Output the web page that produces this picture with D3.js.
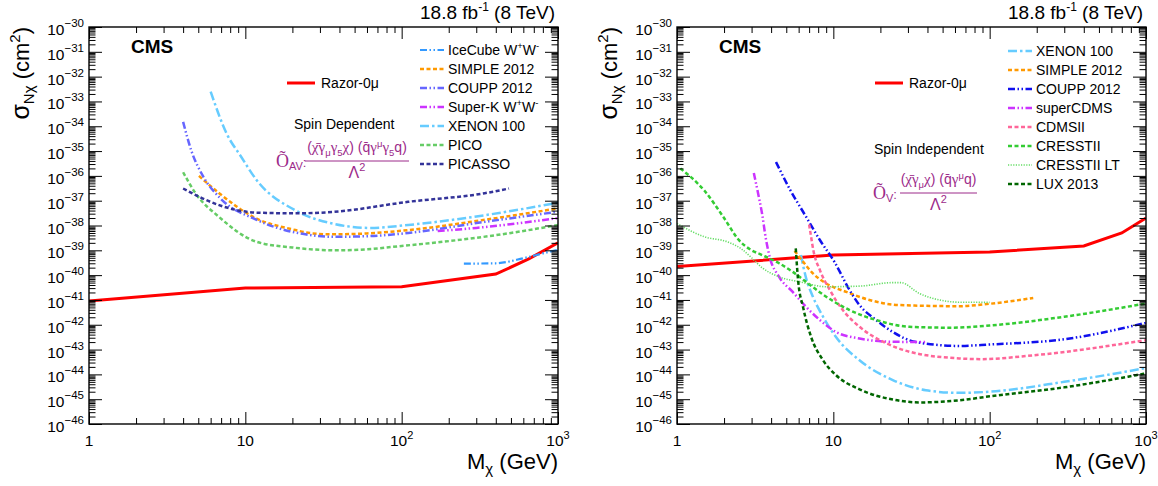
<!DOCTYPE html>
<html>
<head>
<meta charset="utf-8">
<script src="https://cdn.jsdelivr.net/npm/d3@7"></script>
<style>
body { margin: 0; background: #fff; }
text { font-family: "Liberation Sans", Arial, sans-serif; }
</style>
</head>
<body>
<script>
// ---- data: [mass (GeV), sigma (cm^2)] ----
// spin dependent (left)
const razorSD = [[1, 9e-42], [10, 3e-41], [100, 3.4e-41], [400, 1.1e-40], [650, 4.5e-40], [1000, 2e-39]];
const iceCubeSD = [[250, 2.9e-40], [400, 3e-40], [600, 4.8e-40], [800, 7.5e-40], [1000, 1.05e-39]];
const simpleSD = [[5.05, 1e-36], [6.8, 2e-37], [11.8, 1.9e-38], [20, 7e-39], [27, 4.8e-39], [36, 4.4e-39], [60, 4.8e-39], [110, 6.5e-39], [340, 1.7e-38], [1000, 4.9e-38]];
const couppSD = [[4.0, 1.5e-34], [4.5, 1.1e-35], [5.4, 9e-37], [6.8, 1.4e-37], [11.8, 1.7e-38], [27, 4e-39], [36, 3.5e-39], [60, 3.7e-39], [110, 5e-39], [340, 1.4e-38], [1000, 3.6e-38]];
const superKSD = [[170, 6e-39], [300, 8e-39], [600, 1.3e-38], [1000, 2e-38]];
const xenonSD = [[6.0, 2.5e-33], [7.6, 5e-35], [9.4, 5.9e-36], [11.8, 6.8e-37], [20.7, 4.2e-38], [36, 1.2e-38], [63, 8e-39], [110, 1.05e-38], [340, 2.6e-38], [1000, 8.3e-38]];
const picoSD = [[4.0, 1.4e-36], [4.8, 2e-37], [6.8, 2.2e-38], [11.8, 2.2e-39], [20, 1.3e-39], [38, 1e-39], [60, 1.1e-39], [100, 1.5e-39], [183, 2.2e-39], [500, 5e-39], [1000, 1.05e-38]];
const picassoSD = [[4.0, 3.1e-37], [6.8, 6.6e-38], [11.8, 3.3e-38], [20.7, 3.1e-38], [36, 3.5e-38], [110, 9e-38], [340, 2e-37], [486, 3.1e-37]];

// spin independent (right)
const razorSI = [[1, 2.2e-40], [10, 6.5e-40], [100, 8.5e-40], [400, 1.5e-39], [700, 5e-39], [1000, 2e-38]];
const xenonSI = [[6.2, 6.5e-40], [6.7, 7.4e-41], [7.4, 1.35e-41], [8.6, 2.1e-42], [10.4, 3.2e-43], [14.7, 3.7e-44], [24, 5.9e-45], [39, 2.3e-45], [64, 1.8e-45], [100, 2e-45], [300, 5e-45], [1000, 1.8e-44]];
const simpleSI = [[5.65, 9.5e-40], [6.4, 3.5e-40], [7.4, 1.17e-40], [9, 4.6e-41], [12.1, 2.1e-41], [17, 1e-41], [26.5, 6.2e-42], [64, 5.6e-42], [100, 7e-42], [190, 1.2e-41]];
const couppSI = [[4.3, 3.6e-36], [5.3, 2.7e-37], [6.6, 2.6e-38], [8.2, 2.6e-39], [10.2, 3.3e-40], [12.7, 2.5e-41], [14.7, 6.2e-42], [18.8, 1.55e-42], [24, 5.1e-43], [33.8, 2e-43], [64, 1.4e-43], [100, 1.6e-43], [300, 2.6e-43], [1000, 1.2e-42]];
const superCdmsSI = [[3.1, 1.3e-36], [3.3, 2e-37], [3.5, 3e-38], [3.7, 3e-39], [3.9, 6e-40], [4.5, 8.5e-41], [5.5, 2.1e-41], [6.7, 5.2e-42], [8.2, 1.55e-42], [10.4, 5.1e-43], [14.7, 2.8e-43], [21.8, 2.1e-43], [39, 2e-43]];
const cdms2SI = [[7.0, 1.1e-38], [7.15, 4.8e-39], [7.45, 1e-39], [8.2, 1.6e-40], [9.5, 2.5e-41], [11.5, 3.9e-42], [14.7, 8.3e-43], [21.8, 1.8e-43], [30.6, 8.2e-44], [64, 4.4e-44], [89, 4.1e-44], [172, 5.5e-44], [1000, 2.4e-43]];
const cresst2SI = [[1.05, 2e-36], [1.5, 2.5e-37], [2.0, 2e-38], [2.5, 2.5e-39], [3.0, 1e-39], [3.4, 7e-40], [4.5, 3e-40], [5.5, 1.35e-40], [7.1, 4e-41], [9, 1.35e-41], [12.7, 3.9e-42], [18.8, 1.55e-42], [30.6, 8.3e-43], [57, 7.6e-43], [100, 9.3e-43], [300, 2.1e-42], [1000, 7.2e-42]];
const cresst2LtSI = [[1.0, 1.2e-38], [1.5, 3.5e-39], [2.1, 2.2e-39], [2.6, 1.1e-39], [3.0, 5e-40], [3.5, 2e-40], [4.5, 8.5e-41], [6.1, 5.4e-41], [9, 3.4e-41], [14.7, 3.6e-41], [24, 5e-41], [27, 5e-41], [35.6, 1.8e-41], [47.6, 1e-41], [64, 8.1e-42], [100, 8e-42]];
const luxSI = [[5.75, 1.2e-39], [5.95, 6.3e-41], [6.4, 5.2e-42], [7.2, 3.3e-43], [8.6, 3.7e-44], [10.4, 9.3e-45], [14.7, 2.5e-45], [24, 9.7e-46], [35.6, 7.4e-46], [64, 9e-46], [100, 1.3e-45], [300, 3e-45], [1000, 1.1e-44]];

// axis ticks
const xMajor = [1, 10, 100, 1000];
const xLabels = ['1', '10', '10^{2}', '10^{3}'];
const yExponents = d3.range(-46, -29);

// ---- layout ----
const width = 1158, height = 486;
const frameTop = 27, frameBottom = 424;

const dashDotDot = '7,2.5,1.5,2.5,1.5,2.5',
    dashed = '4,2.5',
    longDashDot = '9,3,2.5,3',
    dotted = '1.2,1.4';

const panels = [
    {
        x0: 89, x1: 558,
        razor: razorSD,
        series: [
            {name: 'IceCube W^{+}W^{-}', data: iceCubeSD, color: '#3399ff', dash: dashDotDot, w: 2.2},
            {name: 'SIMPLE 2012', data: simpleSD, color: '#ff9900', dash: dashed, w: 2.5},
            {name: 'COUPP 2012', data: couppSD, color: '#6666ff', dash: dashDotDot, w: 2.5},
            {name: 'Super-K W^{+}W^{-}', data: superKSD, color: '#cc33ff', dash: dashDotDot, w: 2.5},
            {name: 'XENON 100', data: xenonSD, color: '#66ccff', dash: longDashDot, w: 2.5},
            {name: 'PICO', data: picoSD, color: '#66cc66', dash: dashed, w: 2.5},
            {name: 'PICASSO', data: picassoSD, color: '#333399', dash: dashed, w: 2.5}
        ],
        legendY: 50,
        spinText: 'Spin Dependent', spinX: 294, spinY: 129,
        op: 'AV', fracX: 305, fracW: 104, fracY: 161, opX: 276,
        numer: [['(', 's'], ['χ̄', 'g'], ['γ', 'g'], ['μ', 'sub'], ['γ', 'g'], ['5', 'sub'], ['χ', 'g'], [') (', 's'], ['q̄', 's'], ['γ', 'g'], ['μ', 'sup'], ['γ', 'g'], ['5', 'sub'], ['q)', 's']]
    },
    {
        x0: 677, x1: 1146,
        razor: razorSI,
        series: [
            {name: 'XENON 100', data: xenonSI, color: '#66ccff', dash: longDashDot, w: 2.5},
            {name: 'SIMPLE 2012', data: simpleSI, color: '#ff9900', dash: dashed, w: 2.5},
            {name: 'COUPP 2012', data: couppSI, color: '#1010ee', dash: dashDotDot, w: 2.5},
            {name: 'superCDMS', data: superCdmsSI, color: '#cc33ff', dash: dashDotDot, w: 2.5},
            {name: 'CDMSII', data: cdms2SI, color: '#ff6699', dash: dashed, w: 2.5},
            {name: 'CRESSTII', data: cresst2SI, color: '#33cc33', dash: dashed, w: 2.5},
            {name: 'CRESSTII LT', data: cresst2LtSI, color: '#66dd66', dash: dotted, w: 1.6},
            {name: 'LUX 2013', data: luxSI, color: '#006600', dash: dashed, w: 2.5}
        ],
        legendY: 51,
        spinText: 'Spin Independent', spinX: 874, spinY: 154,
        op: 'V', fracX: 900, fracW: 77, fracY: 193, opX: 873,
        numer: [['(', 's'], ['χ̄', 'g'], ['γ', 'g'], ['μ', 'sub'], ['χ', 'g'], [') (', 's'], ['q̄', 's'], ['γ', 'g'], ['μ', 'sup'], ['q)', 's']]
    }
];

const purple = '#9c2a8a';

const svg = d3.select('body')
    .append('svg')
    .attr('width', width)
    .attr('height', height);

// writes "a^{b}c_{d}" style labels as tspans
function richText(sel, str, supSize, shift) {
    const parts = str.split(/(\^\{[^}]*\}|_\{[^}]*\})/).filter(s => s.length);
    let off = 0;
    parts.forEach(p => {
        let dy = 0, txt = p, size = null;
        if (p.startsWith('^{')) { txt = p.slice(2, -1); dy = -shift; size = supSize; }
        else if (p.startsWith('_{')) { txt = p.slice(2, -1); dy = shift * 0.6; size = supSize; }
        const t = sel.append('tspan').attr('dy', dy - off).text(txt);
        if (size) t.attr('font-size', size);
        off = dy;
    });
}

panels.forEach((p, pi) => {
    const x = d3.scaleLog().domain([1, 1000]).range([p.x0, p.x1]);
    const y = d3.scaleLog().domain([1e-46, 1e-30]).range([frameBottom, frameTop]);
    const g = svg.append('g');

    // curves
    const clipId = 'clip' + pi;
    svg.append('defs').append('clipPath').attr('id', clipId)
        .append('rect')
        .attr('x', p.x0).attr('y', frameTop)
        .attr('width', p.x1 - p.x0).attr('height', frameBottom - frameTop);

    const curveLine = d3.line()
        .x(d => x(d[0]))
        .y(d => y(d[1]))
        .curve(d3.curveMonotoneX);

    const plot = g.append('g').attr('clip-path', 'url(#' + clipId + ')');

    plot.append('path')
        .datum(p.razor)
        .attr('d', d3.line().x(d => x(d[0])).y(d => y(d[1])))
        .attr('fill', 'none')
        .attr('stroke', '#ff0000')
        .attr('stroke-width', 3);

    plot.selectAll('path.limit')
        .data(p.series)
        .enter().append('path')
        .attr('class', 'limit')
        .attr('d', s => curveLine(s.data))
        .attr('fill', 'none')
        .attr('stroke', s => s.color)
        .attr('stroke-width', s => s.w)
        .attr('stroke-dasharray', s => s.dash);

    // ticks, pointing inward on all four sides
    const minorY = [];
    for (let k = -46; k < -30; k++) {
        for (let m = 2; m <= 9; m++) minorY.push(m * Math.pow(10, k));
    }
    const majorY = yExponents.map(k => Math.pow(10, k));
    const minorX = [];
    for (let k = 0; k < 3; k++) {
        for (let m = 2; m <= 9; m++) minorX.push(m * Math.pow(10, k));
    }

    const ticks = [
        [d3.axisLeft(y).tickValues(majorY).tickSize(-13), p.x0, 0],
        [d3.axisLeft(y).tickValues(minorY).tickSize(-6.5), p.x0, 0],
        [d3.axisRight(y).tickValues(majorY).tickSize(-13), p.x1, 0],
        [d3.axisRight(y).tickValues(minorY).tickSize(-6.5), p.x1, 0],
        [d3.axisBottom(x).tickValues(xMajor).tickSize(-12), 0, frameBottom],
        [d3.axisBottom(x).tickValues(minorX).tickSize(-6), 0, frameBottom],
        [d3.axisTop(x).tickValues(xMajor).tickSize(-12), 0, frameTop],
        [d3.axisTop(x).tickValues(minorX).tickSize(-6), 0, frameTop]
    ];
    ticks.forEach(([axis, tx, ty]) => {
        g.append('g')
            .attr('transform', 'translate(' + tx + ',' + ty + ')')
            .call(axis.tickFormat(''))
            .call(a => a.select('.domain').remove())
            .call(a => a.selectAll('line').attr('stroke', '#000').attr('stroke-width', 1));
    });

    g.append('rect')
        .attr('x', p.x0).attr('y', frameTop)
        .attr('width', p.x1 - p.x0).attr('height', frameBottom - frameTop)
        .attr('fill', 'none')
        .attr('stroke', '#000')
        .attr('stroke-width', 1.4);

    // tick labels
    yExponents.forEach(k => {
        const t = g.append('text')
            .attr('x', p.x0 - 5)
            .attr('y', y(Math.pow(10, k)) + 8)
            .attr('text-anchor', 'end')
            .attr('font-size', 15.5);
        richText(t, '10^{\u2212' + Math.abs(k) + '}', 11.5, 8);
    });
    xMajor.forEach((v, i) => {
        const t = g.append('text')
            .attr('x', x(v))
            .attr('y', 446)
            .attr('text-anchor', 'middle')
            .attr('font-size', 15.5);
        richText(t, xLabels[i], 11, 7);
    });

    // axis titles
    const yt = g.append('text')
        .attr('transform', 'translate(' + (p.x0 - 60) + ',' + frameTop + ') rotate(-90)')
        .attr('text-anchor', 'end')
        .attr('font-size', 22);
    yt.append('tspan').attr('font-size', 25).text('σ');
    yt.append('tspan').attr('dy', 5).attr('font-size', 15).text('Nχ');
    yt.append('tspan').attr('dy', -5).text(' (cm');
    yt.append('tspan').attr('dy', -9).attr('font-size', 15).text('2');
    yt.append('tspan').attr('dy', 9).text(')');

    const xt = g.append('text')
        .attr('x', p.x1)
        .attr('y', 469)
        .attr('text-anchor', 'end')
        .attr('font-size', 22);
    xt.append('tspan').text('M');
    xt.append('tspan').attr('dy', 5).attr('font-size', 15).text('χ');
    xt.append('tspan').attr('dy', -5).text(' (GeV)');

    const lumi = g.append('text')
        .attr('x', p.x1 - 3)
        .attr('y', 19)
        .attr('text-anchor', 'end')
        .attr('font-size', 19);
    richText(lumi, '18.8 fb^{-1} (8 TeV)', 12, 8);

    g.append('text')
        .attr('x', p.x0 + 42)
        .attr('y', 53)
        .attr('font-size', 19)
        .attr('font-weight', 'bold')
        .text('CMS');

    // razor legend
    const rx = p.x0 + 198;
    g.append('line')
        .attr('x1', rx).attr('x2', rx + 28)
        .attr('y1', 83).attr('y2', 83)
        .attr('stroke', '#ff0000').attr('stroke-width', 3);
    g.append('text')
        .attr('x', rx + 34).attr('y', 88)
        .attr('font-size', 14)
        .text('Razor-0μ');

    // limit legend
    const lx = p.x0 + 331;
    const rows = g.selectAll('g.leg')
        .data(p.series)
        .enter().append('g')
        .attr('class', 'leg')
        .attr('transform', (s, i) => 'translate(' + lx + ',' + (p.legendY + 19 * i) + ')');
    rows.append('line')
        .attr('x1', 0).attr('x2', 24)
        .attr('stroke', s => s.color)
        .attr('stroke-width', s => s.w)
        .attr('stroke-dasharray', s => s.dash);
    rows.append('text')
        .attr('x', 28).attr('y', 5)
        .attr('font-size', 14)
        .each(function (s) { richText(d3.select(this), s.name, 9.5, 6); });

    // operator annotation
    g.append('text')
        .attr('x', p.spinX).attr('y', p.spinY)
        .attr('font-size', 14)
        .text(p.spinText);

    const op = g.append('text')
        .attr('x', p.opX).attr('y', p.fracY + 6)
        .attr('fill', purple)
        .attr('font-size', 18);
    op.append('tspan').attr('font-family', 'Liberation Serif, serif').text('Õ');
    op.append('tspan').attr('dy', 3).attr('font-size', 11).text(p.op);
    op.append('tspan').attr('dy', -3).attr('font-size', 13).text(':');

    const num = g.append('text')
        .attr('x', p.fracX + p.fracW / 2).attr('y', p.fracY - 9)
        .attr('text-anchor', 'middle')
        .attr('fill', purple)
        .attr('font-size', 14);
    let prev = 0;
    p.numer.forEach(([txt, kind]) => {
        let dy = 0;
        const t = num.append('tspan');
        if (kind === 'sub') { dy = 4; t.attr('font-size', 9.5); }
        if (kind === 'sup') { dy = -5; t.attr('font-size', 9.5); }
        if (kind === 'g') t.attr('font-family', 'Liberation Serif, serif').attr('font-size', 15);
        t.attr('dy', dy - prev).text(txt);
        prev = dy;
    });

    g.append('line')
        .attr('x1', p.fracX).attr('x2', p.fracX + p.fracW)
        .attr('y1', p.fracY).attr('y2', p.fracY)
        .attr('stroke', purple).attr('stroke-width', 1);

    const den = g.append('text')
        .attr('x', p.fracX + p.fracW / 2).attr('y', p.fracY + 17)
        .attr('text-anchor', 'middle')
        .attr('fill', purple)
        .attr('font-size', 16)
        .attr('font-family', 'Liberation Serif, serif');
    den.append('tspan').text('Λ');
    den.append('tspan').attr('dy', -7).attr('font-size', 11).text('2');
});
</script>
</body>
</html>
